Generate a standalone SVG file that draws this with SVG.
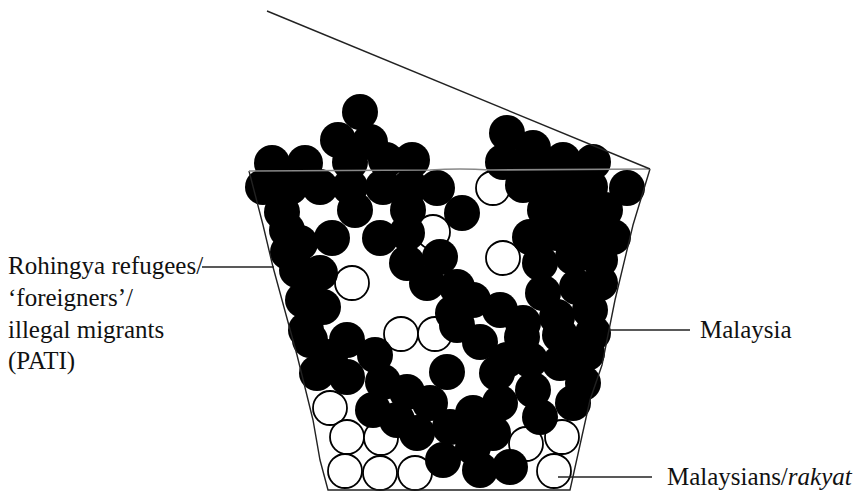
<svg xmlns="http://www.w3.org/2000/svg" width="856" height="494" viewBox="0 0 856 494">
<style>
.b{fill:#000}
.w{fill:#fff;stroke:#000;stroke-width:1.8}
.t{font-family:"Liberation Serif","Times New Roman",serif;font-size:25px;fill:#111}
.ln{stroke:#222;stroke-width:1.4;fill:none}
</style>
<rect width="856" height="494" fill="#fff"/>
<g id="whites">
<circle class="w" cx="493" cy="188" r="17"/>
<circle class="w" cx="433" cy="232" r="17"/>
<circle class="w" cx="352" cy="283" r="17"/>
<circle class="w" cx="503" cy="258" r="17"/>
<circle class="w" cx="401" cy="334" r="17"/>
<circle class="w" cx="435" cy="334" r="17"/>
<circle class="w" cx="330" cy="408" r="17"/>
<circle class="w" cx="347" cy="437" r="17"/>
<circle class="w" cx="381" cy="438" r="17"/>
<circle class="w" cx="345" cy="471" r="17"/>
<circle class="w" cx="380" cy="473" r="17"/>
<circle class="w" cx="415" cy="473" r="17"/>
<circle class="w" cx="526" cy="444" r="17"/>
<circle class="w" cx="562" cy="437" r="17"/>
<circle class="w" cx="554" cy="471" r="17"/>
</g>
<g id="blacks">
<circle class="b" cx="360" cy="112" r="18"/>
<circle class="b" cx="338" cy="140" r="18"/>
<circle class="b" cx="370" cy="142" r="18"/>
<circle class="b" cx="386" cy="160" r="18"/>
<circle class="b" cx="350" cy="162" r="18"/>
<circle class="b" cx="272" cy="163" r="18"/>
<circle class="b" cx="305" cy="163" r="18"/>
<circle class="b" cx="412" cy="160" r="18"/>
<circle class="b" cx="507" cy="133" r="18"/>
<circle class="b" cx="533" cy="148" r="18"/>
<circle class="b" cx="563" cy="160" r="18"/>
<circle class="b" cx="593" cy="162" r="18"/>
<circle class="b" cx="503" cy="162" r="18"/>
<circle class="b" cx="527" cy="173" r="18"/>
<circle class="b" cx="263" cy="187" r="18"/>
<circle class="b" cx="290" cy="187" r="18"/>
<circle class="b" cx="320" cy="187" r="18"/>
<circle class="b" cx="350" cy="187" r="18"/>
<circle class="b" cx="383" cy="187" r="18"/>
<circle class="b" cx="410" cy="187" r="18"/>
<circle class="b" cx="437" cy="188" r="18"/>
<circle class="b" cx="523" cy="185" r="18"/>
<circle class="b" cx="553" cy="190" r="18"/>
<circle class="b" cx="590" cy="187" r="18"/>
<circle class="b" cx="627" cy="188" r="18"/>
<circle class="b" cx="552" cy="176" r="18"/>
<circle class="b" cx="580" cy="178" r="18"/>
<circle class="b" cx="282" cy="212" r="18"/>
<circle class="b" cx="355" cy="210" r="18"/>
<circle class="b" cx="408" cy="210" r="18"/>
<circle class="b" cx="462" cy="213" r="18"/>
<circle class="b" cx="287" cy="230" r="18"/>
<circle class="b" cx="300" cy="243" r="18"/>
<circle class="b" cx="332" cy="238" r="18"/>
<circle class="b" cx="380" cy="238" r="18"/>
<circle class="b" cx="407" cy="233" r="18"/>
<circle class="b" cx="545" cy="210" r="18"/>
<circle class="b" cx="575" cy="210" r="18"/>
<circle class="b" cx="605" cy="210" r="18"/>
<circle class="b" cx="530" cy="237" r="18"/>
<circle class="b" cx="557" cy="233" r="18"/>
<circle class="b" cx="590" cy="233" r="18"/>
<circle class="b" cx="613" cy="237" r="18"/>
<circle class="b" cx="288" cy="252" r="18"/>
<circle class="b" cx="297" cy="270" r="18"/>
<circle class="b" cx="320" cy="273" r="18"/>
<circle class="b" cx="407" cy="263" r="18"/>
<circle class="b" cx="440" cy="257" r="18"/>
<circle class="b" cx="540" cy="263" r="18"/>
<circle class="b" cx="573" cy="257" r="18"/>
<circle class="b" cx="600" cy="260" r="18"/>
<circle class="b" cx="303" cy="300" r="18"/>
<circle class="b" cx="323" cy="307" r="18"/>
<circle class="b" cx="427" cy="283" r="18"/>
<circle class="b" cx="457" cy="287" r="18"/>
<circle class="b" cx="473" cy="300" r="18"/>
<circle class="b" cx="500" cy="310" r="18"/>
<circle class="b" cx="453" cy="313" r="18"/>
<circle class="b" cx="523" cy="323" r="18"/>
<circle class="b" cx="543" cy="293" r="18"/>
<circle class="b" cx="577" cy="287" r="18"/>
<circle class="b" cx="600" cy="283" r="18"/>
<circle class="b" cx="557" cy="317" r="18"/>
<circle class="b" cx="590" cy="310" r="18"/>
<circle class="b" cx="306" cy="330" r="18"/>
<circle class="b" cx="457" cy="325" r="18"/>
<circle class="b" cx="480" cy="342" r="18"/>
<circle class="b" cx="522" cy="337" r="18"/>
<circle class="b" cx="560" cy="335" r="18"/>
<circle class="b" cx="593" cy="333" r="18"/>
<circle class="b" cx="310" cy="340" r="18"/>
<circle class="b" cx="347" cy="340" r="18"/>
<circle class="b" cx="330" cy="357" r="18"/>
<circle class="b" cx="317" cy="373" r="18"/>
<circle class="b" cx="347" cy="377" r="18"/>
<circle class="b" cx="375" cy="355" r="18"/>
<circle class="b" cx="447" cy="372" r="18"/>
<circle class="b" cx="383" cy="382" r="18"/>
<circle class="b" cx="407" cy="392" r="18"/>
<circle class="b" cx="373" cy="410" r="18"/>
<circle class="b" cx="397" cy="420" r="18"/>
<circle class="b" cx="417" cy="433" r="18"/>
<circle class="b" cx="430" cy="403" r="18"/>
<circle class="b" cx="450" cy="427" r="18"/>
<circle class="b" cx="443" cy="460" r="18"/>
<circle class="b" cx="480" cy="470" r="18"/>
<circle class="b" cx="510" cy="467" r="18"/>
<circle class="b" cx="497" cy="373" r="18"/>
<circle class="b" cx="507" cy="360" r="18"/>
<circle class="b" cx="473" cy="413" r="18"/>
<circle class="b" cx="500" cy="403" r="18"/>
<circle class="b" cx="533" cy="390" r="18"/>
<circle class="b" cx="540" cy="417" r="18"/>
<circle class="b" cx="573" cy="403" r="18"/>
<circle class="b" cx="583" cy="383" r="18"/>
<circle class="b" cx="560" cy="363" r="18"/>
<circle class="b" cx="587" cy="353" r="18"/>
<circle class="b" cx="530" cy="360" r="18"/>
<circle class="b" cx="493" cy="433" r="18"/>
<circle class="b" cx="473" cy="447" r="18"/>
</g>
<g id="container">
<path class="ln" stroke="#000" stroke-width="1.9" d="M249,171 L263,225 L273,267 L297,355 Q306,392 313,420 L320,460 L328,490 L570,490 L590,400 L602,365 L615,300 L633,225 L650,169"/>
<path d="M249,171 L430,170 Q460,168 490,170 L650,169" fill="none" stroke="#888" stroke-width="1.6"/>
<line id="lid" x1="267" y1="11" x2="650" y2="169" stroke="#222" stroke-width="1.4"/>
</g>
<g id="connectors">
<line class="ln" x1="202" y1="267" x2="274" y2="267"/>
<line class="ln" x1="610" y1="330" x2="690" y2="330"/>
<line class="ln" x1="558" y1="477" x2="652" y2="477"/>
</g>
<g id="label-rohingya">
<text class="t" x="8" y="274">Rohingya refugees/</text>
<text class="t" x="8" y="306">‘foreigners’/</text>
<text class="t" x="8" y="338">illegal migrants</text>
<text class="t" x="8" y="369">(PATI)</text>
</g>
<g id="label-malaysia">
<text class="t" x="700" y="338">Malaysia</text>
</g>
<g id="label-rakyat">
<text class="t" x="667" y="485">Malaysians/<tspan font-style="italic">rakyat</tspan></text>
</g>
</svg>
